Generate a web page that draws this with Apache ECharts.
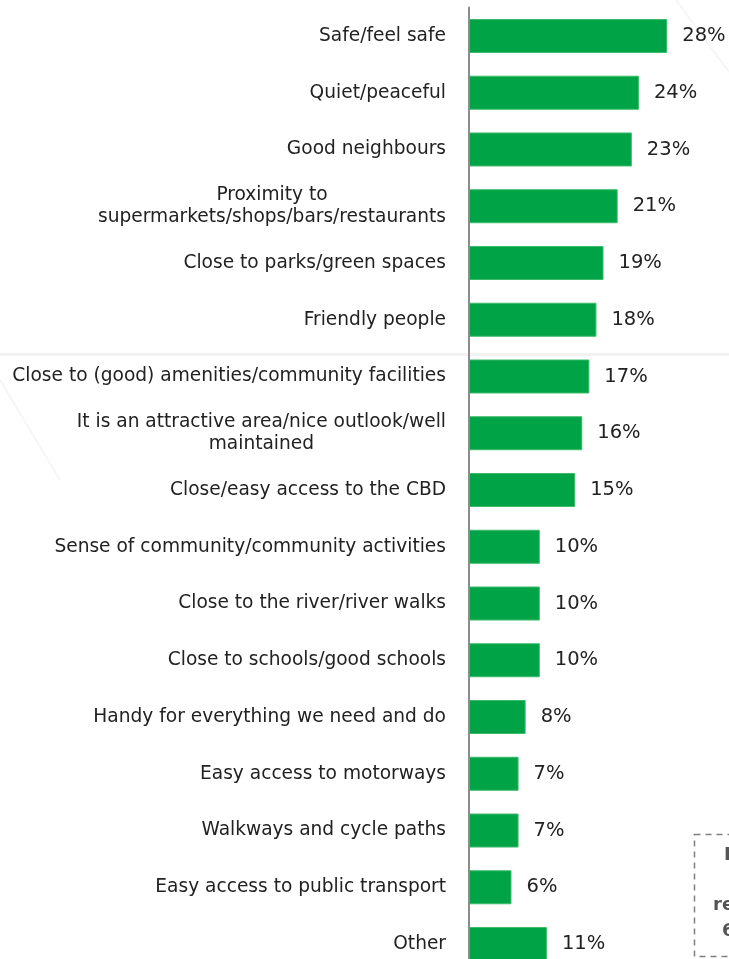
<!DOCTYPE html>
<html>
<head>
<meta charset="utf-8">
<script src="https://cdn.jsdelivr.net/npm/echarts@6/dist/echarts.min.js"></script>
<style>
html,body{margin:0;padding:0;background:#fff;}
#chart{width:729px;height:959px;}
</style>
</head>
<body>
<div id="chart"></div>
<script>
const categories = [
  "Safe/feel safe",
  "Quiet/peaceful",
  "Good neighbours",
  "Proximity to\nsupermarkets/shops/bars/restaurants",
  "Close to parks/green spaces",
  "Friendly people",
  "Close to (good) amenities/community facilities",
  "It is an attractive area/nice outlook/well\nmaintained",
  "Close/easy access to the CBD",
  "Sense of community/community activities",
  "Close to the river/river walks",
  "Close to schools/good schools",
  "Handy for everything we need and do",
  "Easy access to motorways",
  "Walkways and cycle paths",
  "Easy access to public transport",
  "Other"
];
const values = [28, 24, 23, 21, 19, 18, 17, 16, 15, 10, 10, 10, 8, 7, 7, 6, 11];
const noteLines = ["I", "re", "6"];

const FONT = "DejaVu Sans";
const chart = echarts.init(document.getElementById('chart'));
chart.setOption({
  backgroundColor: '#ffffff',
  animation: false,
  grid: { left: 469, width: 212.4, top: 7.6, height: 964.8, containLabel: false, outerBoundsMode: 'none' },
  xAxis: {
    type: 'value', min: 0, max: 30,
    show: false
  },
  yAxis: {
    type: 'category',
    data: categories,
    inverse: true,
    axisLine: { show: true, lineStyle: { color: '#8c8c8c', width: 2 } },
    axisTick: { show: false },
    axisLabel: {
      margin: 23,
      align: 'right',
      formatter: function (v) {
        return v.split('\n').map(function (l) { return '{c|' + l + '}'; }).join('\n');
      },
      rich: {
        c: { align: 'center', fontFamily: FONT, fontSize: 18.6, color: '#222222', lineHeight: 22 }
      }
    }
  },
  series: [{
    type: 'bar',
    data: values,
    barWidth: 34,
    itemStyle: { color: '#00a346', borderColor: '#3dbb6a', borderWidth: 1 },
    label: {
      show: true,
      position: 'right',
      distance: 15,
      formatter: '{c}%',
      fontFamily: FONT,
      fontSize: 19.5,
      color: '#222222'
    }
  }],
  graphic: [
    { type: 'line', z: -1, shape: { x1: 0, y1: 354.5, x2: 729, y2: 354.5 }, style: { stroke: '#f2f2f2', lineWidth: 3 } },
    { type: 'line', z: -1, shape: { x1: 676, y1: 0, x2: 729, y2: 72 }, style: { stroke: '#f6f6f6', lineWidth: 2 } },
    { type: 'line', z: -1, shape: { x1: 0, y1: 380, x2: 60, y2: 480 }, style: { stroke: '#f6f6f6', lineWidth: 2 } },
    { type: 'rect', shape: { x: 694.5, y: 834.5, width: 60, height: 122 }, style: { fill: 'none', stroke: '#808080', lineWidth: 1.5, lineDash: [6, 5] } },
    { type: 'text', left: 724, top: 846, style: { text: noteLines[0], font: 'bold 18px ' + FONT, fill: '#555555' } },
    { type: 'text', left: 713, top: 896, style: { text: noteLines[1], font: 'bold 18px ' + FONT, fill: '#555555' } },
    { type: 'text', left: 722, top: 922, style: { text: noteLines[2], font: 'bold 18px ' + FONT, fill: '#555555' } }
  ]
});
</script>
</body>
</html>
